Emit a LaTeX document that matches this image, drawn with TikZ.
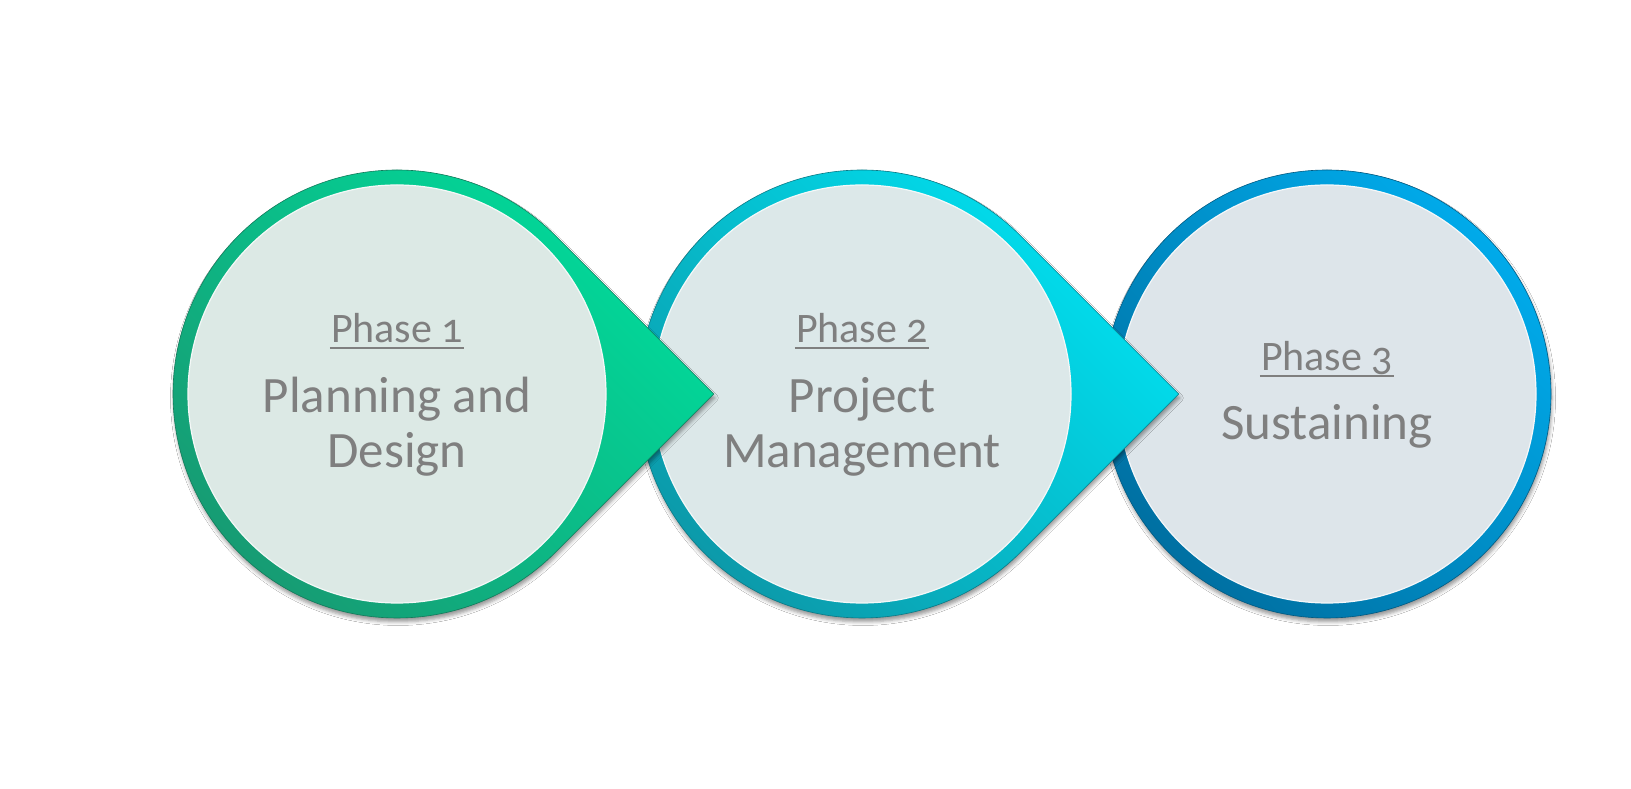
\documentclass[tikz,border=0pt]{standalone}
\usepackage{fontspec}
\setmainfont{Carlito}[Numbers=OldStyle]
\usetikzlibrary{shadows.blur}
\definecolor{gAdark}{HTML}{179A72}
\definecolor{gAmid}{HTML}{06C48E}
\definecolor{gAbright}{HTML}{00DC9C}
\definecolor{gAin}{HTML}{DCE9E5}
\definecolor{gBdark}{HTML}{0C98A8}
\definecolor{gBmid}{HTML}{00C6D4}
\definecolor{gBbright}{HTML}{00E2F2}
\definecolor{gBin}{HTML}{DCE8E9}
\definecolor{gCdark}{HTML}{0070A2}
\definecolor{gCmid}{HTML}{008CC4}
\definecolor{gCbright}{HTML}{00AAEA}
\definecolor{gCin}{HTML}{DDE5EA}
\definecolor{txtgrey}{HTML}{7F7F7F}
\begin{document}
\begin{tikzpicture}[x=1pt,y=1pt,
  ring/.style n args={3}{blur shadow={shadow xshift=1pt, shadow yshift=-4pt, shadow blur radius=3.5pt, shadow opacity=40},
     draw=#1!80!black, line width=0.6pt, bottom color=#1, middle color=#2, top color=#3, shading angle=-45},
  inner/.style={circle, minimum size=418pt, inner sep=0pt, fill=#1, draw=white!70!#1, line width=1.2pt},
  phasetxt/.style={anchor=base, inner sep=0pt, text=txtgrey, font=\fontsize{42}{50}\selectfont},
  maintxt/.style={anchor=base, inner sep=0pt, text=txtgrey, font=\fontsize{51}{55}\selectfont},
  uline/.style={draw=txtgrey, line width=1.8pt}]
\useasboundingbox (0,0) rectangle (1631,789);
\fill[white] (0,0) rectangle (1631,789);
% circle 3
\path[ring={gCdark}{gCmid}{gCbright}] (1327,395) circle[radius=224];
\node[inner=gCin] (c3) at (1327,395) {};
% circle 2
\path[ring={gBdark}{gBmid}{gBbright}] (1020.39,553.39) -- (1178.8,395) -- (1020.39,236.61)
   arc[start angle=-45, end angle=-315, radius=224] -- cycle;
\node[inner=gBin] (c2) at (862,395) {};
% circle 1
\path[ring={gAdark}{gAmid}{gAbright}] (555.39,553.39) -- (713.8,395) -- (555.39,236.61)
   arc[start angle=-45, end angle=-315, radius=224] -- cycle;
\node[inner=gAin] (c1) at (397,395) {};
% texts
\node[phasetxt] (p1) at (397,446) {Phase 1};
\draw[uline] ([xshift=-1pt,yshift=-5pt]p1.base west) -- ([xshift=1pt,yshift=-5pt]p1.base east);
\node[maintxt] (t1a) at (397,376) {Planning and};
\node[maintxt] (t1b) at (397,321) {Design};
\node[phasetxt] (p2) at (862,446) {Phase 2};
\draw[uline] ([xshift=-1pt,yshift=-5pt]p2.base west) -- ([xshift=1pt,yshift=-5pt]p2.base east);
\node[maintxt] (t2a) at (862,376) {Project};
\node[maintxt] (t2b) at (862,321) {Management};
\node[phasetxt] (p3) at (1327,418) {Phase 3};
\draw[uline] ([xshift=-1pt,yshift=-5pt]p3.base west) -- ([xshift=1pt,yshift=-5pt]p3.base east);
\node[maintxt] (t3a) at (1327,349) {Sustaining};
\end{tikzpicture}
\end{document}
